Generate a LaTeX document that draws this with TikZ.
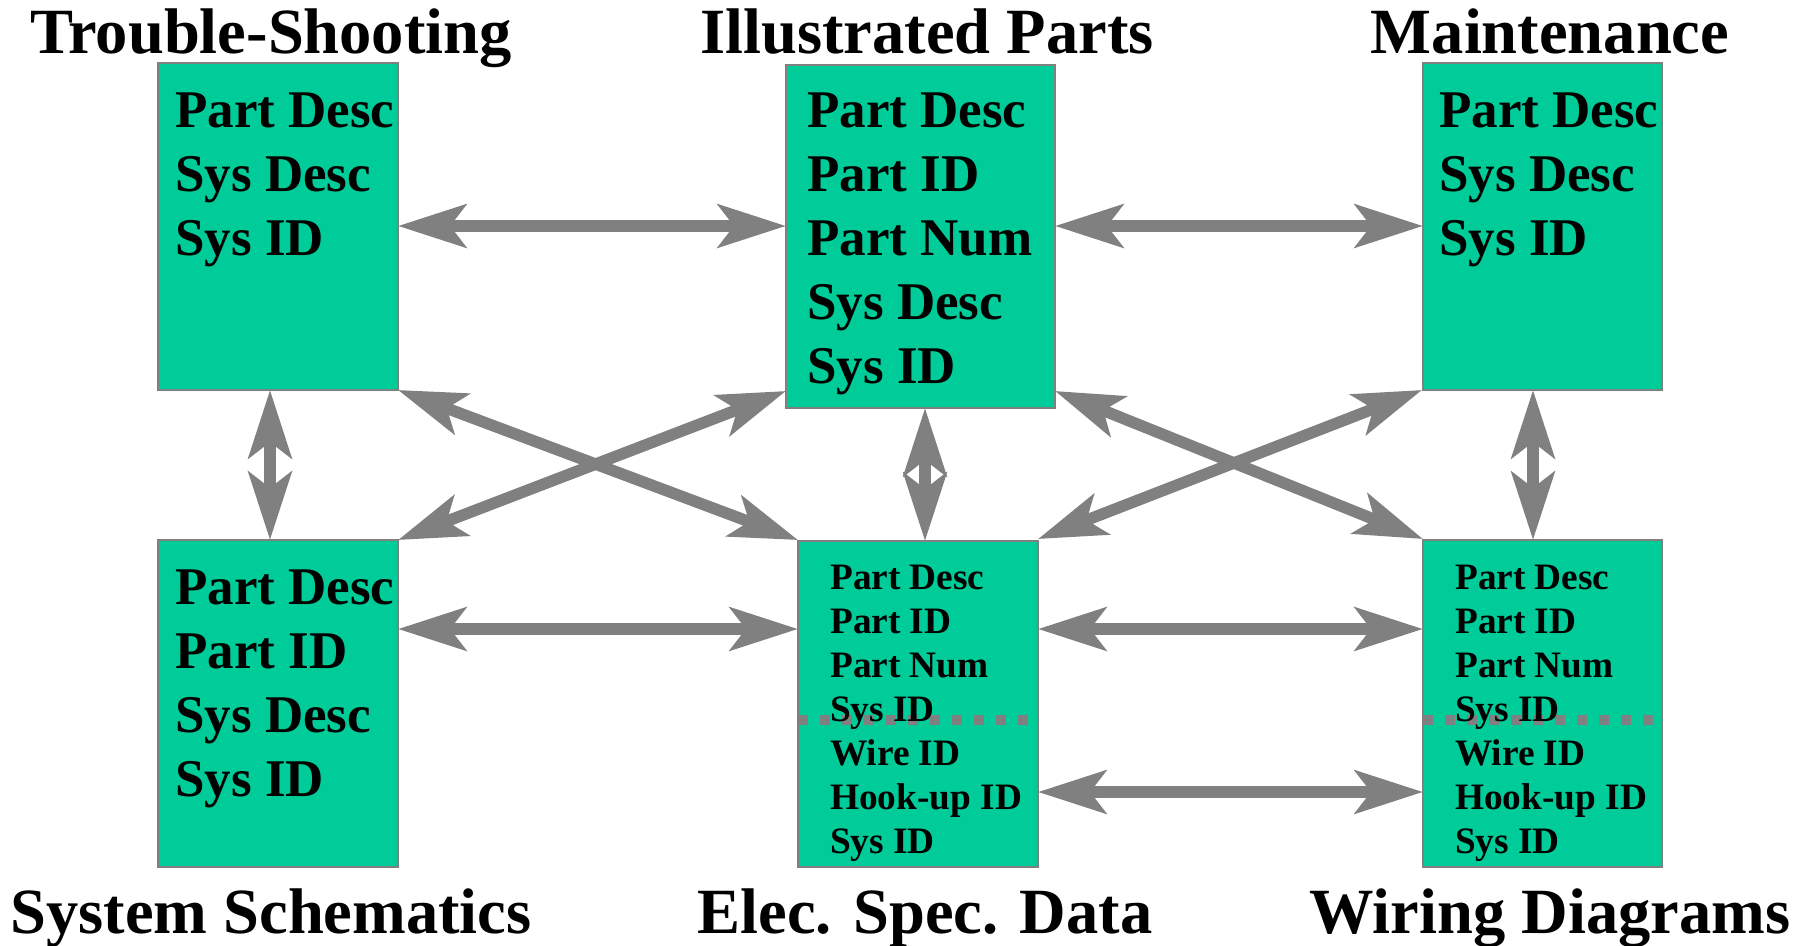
\documentclass[tikz,border=0pt]{standalone}
\usepackage{fontspec}
\setmainfont{Liberation Serif}
\usetikzlibrary{arrows.meta}
\definecolor{boxfill}{HTML}{00CC99}
\definecolor{linegray}{HTML}{808080}
\tikzset{
  box/.style={draw=linegray, line width=2.5pt, fill=boxfill, inner sep=0pt},
  title/.style={anchor=base, inner sep=0pt, font=\fontsize{64.5pt}{66pt}\selectfont\bfseries},
  big/.style={anchor=base west, inner sep=0pt, font=\fontsize{53pt}{55pt}\selectfont\bfseries},
  small/.style={anchor=base west, inner sep=0pt, font=\fontsize{37.3pt}{39pt}\selectfont\bfseries},
  link/.style={draw=linegray, line width=11.5pt,
    {Stealth[length=68pt, width=43pt, inset=16pt]}-{Stealth[length=68pt, width=43pt, inset=16pt]}},
  shaft/.style={draw=linegray, line width=11.5pt, shorten <=40pt, shorten >=40pt},
  divider/.style={draw=linegray, line width=10pt, dash pattern=on 10pt off 12pt},
}
\begin{document}
\begin{tikzpicture}[x=1pt, y=-1pt]
\useasboundingbox (0,0) rectangle (1807,945);
% boxes
\path[box] (158,63) rectangle (398,390) node[midway] (ts) {};
\path[box] (786,65) rectangle (1055,408) node[midway] (ip) {};
\path[box] (1423,63) rectangle (1662,390) node[midway] (mt) {};
\path[box] (158,540) rectangle (398,867) node[midway] (ss) {};
\path[box] (798,541) rectangle (1038,867) node[midway] (esd) {};
\path[box] (1423,540) rectangle (1662,867) node[midway] (wd) {};
% named anchor points
\coordinate (tsR) at (398,226);
\coordinate (ipL) at (786,226);
\coordinate (ipR) at (1055,226);
\coordinate (mtL) at (1423,226);
\coordinate (tsB) at (270,390);
\coordinate (ssT) at (270,540);
\coordinate (ipB) at (925,408);
\coordinate (esdT) at (925,541);
\coordinate (mtB) at (1533,390);
\coordinate (wdT) at (1533,540);
\coordinate (ssR) at (398,629);
\coordinate (esdL) at (798,629);
\coordinate (esdR) at (1038,629);
\coordinate (wdL) at (1423,629);
\coordinate (esdR2) at (1038,792);
\coordinate (wdL2) at (1423,792);
\coordinate (tsBR) at (398,390);
\coordinate (esdTL) at (798,540);
\coordinate (ssTR) at (398,540);
\coordinate (ipBL) at (786,391);
\coordinate (ipBR) at (1055,391);
\coordinate (wdTL) at (1423,539);
\coordinate (esdTR) at (1038,539);
\coordinate (mtBL) at (1422,390);
% dividers
\coordinate (esdDL) at (798,720);
\coordinate (esdDR) at (1038,720);
\coordinate (wdDL) at (1423,720);
\coordinate (wdDR) at (1662,720);
\draw[divider] (esdDL) -- (esdDR);
\draw[divider] (wdDL) -- (wdDR);
% titles
\node[title] (t1) at (271,53) {Trouble-Shooting};
\node[title] (t2) at (927,53) {Illustrated Parts};
\node[title] (t3) at (1550,53) {Maintenance};
\node[title] (t4) at (271,933) {System Schematics};
\node[title] (t5) at (925,933) {Elec. Spec. Data};
\node[title] (t6) at (1550,933) {Wiring Diagrams};
% box texts
\node[big] (ts1) at (175,127) {Part Desc};
\node[big] (ts2) at (175,191) {Sys Desc};
\node[big] (ts3) at (175,255) {Sys ID};
\node[big] (ip1) at (807,127) {Part Desc};
\node[big] (ip2) at (807,191) {Part ID};
\node[big] (ip3) at (807,255) {Part Num};
\node[big] (ip4) at (807,319) {Sys Desc};
\node[big] (ip5) at (807,383) {Sys ID};
\node[big] (mt1) at (1439,127) {Part Desc};
\node[big] (mt2) at (1439,191) {Sys Desc};
\node[big] (mt3) at (1439,255) {Sys ID};
\node[big] (ss1) at (175,604) {Part Desc};
\node[big] (ss2) at (175,668) {Part ID};
\node[big] (ss3) at (175,732) {Sys Desc};
\node[big] (ss4) at (175,796) {Sys ID};
\foreach \n/\x in {e/830, w/1455}{
  \node[small] (\n1) at (\x,589) {Part Desc};
  \node[small] (\n2) at (\x,633) {Part ID};
  \node[small] (\n3) at (\x,677) {Part Num};
  \node[small] (\n4) at (\x,721) {Sys ID};
  \node[small] (\n5) at (\x,765) {Wire ID};
  \node[small] (\n6) at (\x,809) {Hook-up ID};
  \node[small] (\n7) at (\x,853) {Sys ID};
}
% connectors
\draw[link] (tsR) -- (ipL);
\draw[link] (ipR) -- (mtL);
\draw[link] (tsB) -- (ssT);
\draw[link] (ipB) -- (esdT);
\draw[link] (mtB) -- (wdT);
\draw[link] (ssR) -- (esdL);
\draw[link] (esdR) -- (wdL);
\draw[link] (esdR2) -- (wdL2);
\draw[link] (tsBR) -- (esdTL);
\draw[link] (ssTR) -- (ipBL);
\draw[link] (ipBR) -- (wdTL);
\draw[link] (esdTR) -- (mtBL);
% shafts under the heads of the short vertical links
\draw[shaft] (tsB) -- (ssT);
\draw[shaft] (ipB) -- (esdT);
\draw[shaft] (mtB) -- (wdT);
\end{tikzpicture}
\end{document}
